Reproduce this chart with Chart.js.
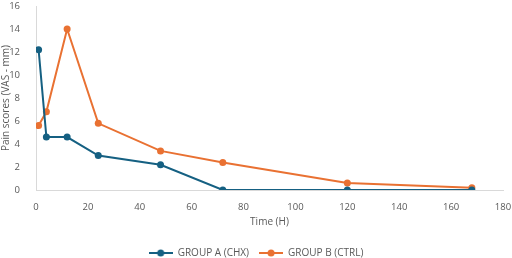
<!DOCTYPE html>
<html lang="en">
<head>
    <meta charset="UTF-8">
    <title>Pain scores</title>
    <script src="https://cdn.jsdelivr.net/npm/chart.js"></script>
    <style>
        body {
            margin: 0;
            padding: 0;
            background: #ffffff;
        }
        #chart-container {
            position: relative;
            width: 512px;
            height: 258px;
        }
    </style>
</head>
<body>
    <div id="chart-container">
        <canvas id="pain-chart"></canvas>
    </div>

    <script>
        // Time points (hours) and VAS scores
        const timeHours = [1, 4, 12, 24, 48, 72, 120, 168];
        const groupA = [12.2, 4.6, 4.6, 3.0, 2.2, 0, 0, 0];
        const groupB = [5.6, 6.8, 14.0, 5.8, 3.4, 2.4, 0.6, 0.2];
        const seriesNames = ['GROUP A (CHX)', 'GROUP B (CTRL)'];
        const xTitle = 'Time (H)';
        const yTitle = 'Pain scores (VAS - mm)';

        const blue = '#156082';
        const orange = '#E97132';
        const textGray = '#595959';
        const axisGray = '#d9d9d9';

        // Legend marker: short line with a dot in the middle (Excel style)
        function legendMarker(color) {
            const c = document.createElement('canvas');
            c.width = 24;
            c.height = 8;
            const g = c.getContext('2d');
            g.strokeStyle = color;
            g.lineWidth = 2;
            g.beginPath();
            g.moveTo(0, 4);
            g.lineTo(24, 4);
            g.stroke();
            g.fillStyle = color;
            g.beginPath();
            g.arc(12, 4, 3.5, 0, Math.PI * 2);
            g.fill();
            return c;
        }

        function toPoints(values) {
            return timeHours.map((t, i) => ({ x: t, y: values[i] }));
        }

        const datasets = [
            { label: seriesNames[0], data: toPoints(groupA), color: blue },
            { label: seriesNames[1], data: toPoints(groupB), color: orange }
        ].map(d => ({
            label: d.label,
            data: d.data,
            borderColor: d.color,
            backgroundColor: d.color,
            borderWidth: 2,
            pointRadius: 3.5,
            pointBorderWidth: 0,
            pointStyle: 'circle',
            fill: false,
            tension: 0
        }));

        const markers = [legendMarker(blue), legendMarker(orange)];

        const ctx = document.getElementById('pain-chart').getContext('2d');
        new Chart(ctx, {
            type: 'line',
            data: { datasets: datasets },
            options: {
                responsive: true,
                maintainAspectRatio: false,
                animation: false,
                layout: { padding: { left: 0, right: 0, top: 0, bottom: -10 } },
                plugins: {
                    tooltip: { enabled: false },
                    legend: {
                        position: 'bottom',
                        labels: {
                            usePointStyle: true,
                            pointStyleWidth: 24,
                            color: textGray,
                            font: { family: 'Open Sans', size: 10 },
                            padding: 10,
                            generateLabels: chart => chart.data.datasets.map((ds, i) => ({
                                text: ds.label,
                                fontColor: textGray,
                                pointStyle: markers[i],
                                datasetIndex: i,
                                hidden: false,
                                lineWidth: 0
                            }))
                        }
                    }
                },
                scales: {
                    x: {
                        type: 'linear',
                        min: 0,
                        max: 180,
                        grid: { display: false },
                        border: { display: true, color: axisGray, width: 1 },
                        ticks: {
                            stepSize: 20,
                            color: textGray,
                            font: { family: 'Open Sans', size: 9.5 },
                            padding: 4
                        },
                        title: {
                            display: true,
                            text: xTitle,
                            color: textGray,
                            font: { family: 'Open Sans', size: 10 },
                            padding: { top: 0, bottom: 10 }
                        },
                        afterFit: scale => {
                            scale.height = 48;
                            scale.paddingRight = 9;
                        }
                    },
                    y: {
                        min: 0,
                        max: 16,
                        grid: { display: false },
                        border: { display: true, color: axisGray, width: 1 },
                        ticks: {
                            stepSize: 2,
                            color: textGray,
                            font: { family: 'Open Sans', size: 9.5 },
                            padding: 8
                        },
                        title: {
                            display: true,
                            text: yTitle,
                            color: textGray,
                            font: { family: 'Open Sans', size: 10 },
                            padding: { top: 0, bottom: 0 }
                        },
                        afterFit: scale => {
                            scale.width = 36;
                            scale.paddingTop = 6;
                        }
                    }
                }
            }
        });
    </script>
</body>
</html>
